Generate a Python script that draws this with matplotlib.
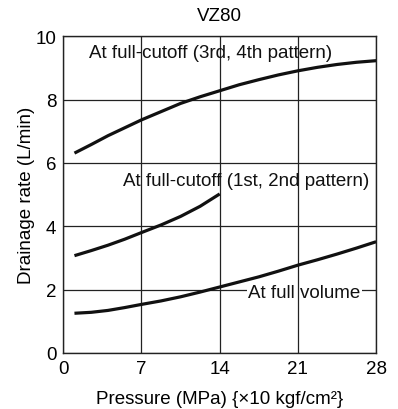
import matplotlib
matplotlib.use("Agg")
import matplotlib.pyplot as plt

plt.rcParams['font.family'] = ['Liberation Sans', 'DejaVu Sans']

title = "VZ80"
xlabel = "Pressure (MPa) {×10 kgf/cm²}"
ylabel = "Drainage rate (L/min)"
xticks = [0, 7, 14, 21, 28]
yticks = [0, 2, 4, 6, 8, 10]

p_upper = [1, 2.5, 4, 5.5, 7, 8.75, 10.5, 12.25, 14, 15.75, 17.5, 19.25, 21, 22.75, 24.5, 26.25, 28]
q_upper = [6.31, 6.58, 6.86, 7.11, 7.36, 7.62, 7.88, 8.09, 8.28, 8.47, 8.63, 8.78, 8.91, 9.02, 9.11, 9.18, 9.23]
label_upper = "At full-cutoff (3rd, 4th pattern)"

p_mid = [1, 2.5, 4, 5.5, 7, 8.75, 10.5, 12.25, 14]
q_mid = [3.07, 3.23, 3.40, 3.59, 3.80, 4.04, 4.31, 4.63, 5.02]
label_mid = "At full-cutoff (1st, 2nd pattern)"

p_low = [1, 2.5, 4, 5.5, 7, 8.75, 10.5, 12.25, 14, 15.75, 17.5, 19.25, 21, 22.75, 24.5, 26.25, 28]
q_low = [1.25, 1.28, 1.34, 1.43, 1.53, 1.64, 1.77, 1.92, 2.08, 2.24, 2.40, 2.58, 2.77, 2.94, 3.12, 3.31, 3.51]
label_low = "At full volume"

fs = 13.5

fig = plt.figure(figsize=(3.98, 4.10), dpi=100)
ax = fig.add_axes([0.159, 0.137, 0.786, 0.772])
ax.set_xlim(0, 28)
ax.set_ylim(0, 10)
ax.set_xticks(xticks)
ax.set_yticks(yticks)
ax.grid(True, color='#222222', linewidth=0.9)
ax.set_axisbelow(True)
ax.yaxis.set_zorder(0.5)
ax.xaxis.set_zorder(1.5)
ax.tick_params(length=0, labelsize=fs, pad=5)
for s in ax.spines.values():
    s.set_linewidth(1.0)
    s.set_color('#222222')

lw = 2.3
ax.plot(p_upper, q_upper, color='#111111', lw=lw, solid_capstyle='butt', zorder=2)
ax.plot(p_mid, q_mid, color='#111111', lw=lw, solid_capstyle='butt', zorder=2)
ax.plot(p_low, q_low, color='#111111', lw=lw, solid_capstyle='butt', zorder=2)

ax.text(13.2, 9.5, label_upper, fontsize=fs, ha='center', va='center', color='#111111', zorder=3)
ax.text(16.35, 5.44, label_mid, fontsize=fs, ha='center', va='center', color='#111111', zorder=3)
ax.text(21.6, 1.9, label_low, fontsize=fs, ha='center', va='center', color='#111111', zorder=1,
        bbox=dict(facecolor='white', edgecolor='none', pad=1))

ax.set_title(title, fontsize=fs, pad=12)
ax.set_xlabel(xlabel, fontsize=fs, labelpad=9.5)
ax.set_ylabel(ylabel, fontsize=fs, labelpad=0)

fig.savefig("out.png", dpi=100)
